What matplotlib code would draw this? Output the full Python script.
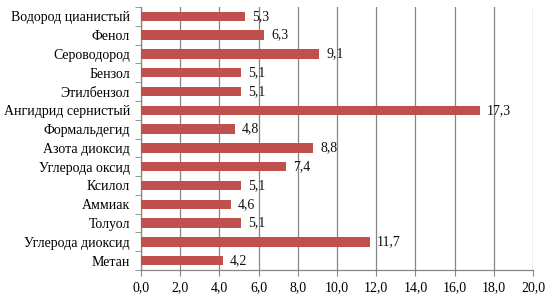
import numpy as np
from matplotlib import pyplot as plt
from matplotlib.ticker import FixedLocator, FuncFormatter

plt.rcParams['font.family'] = ['Liberation Serif', 'DejaVu Serif']

names = ['Водород цианистый', 'Фенол', 'Сероводород', 'Бензол', 'Этилбензол',
         'Ангидрид сернистый', 'Формальдегид', 'Азота диоксид', 'Углерода оксид',
         'Ксилол', 'Аммиак', 'Толуол', 'Углерода диоксид', 'Метан']
values = [5.3, 6.3, 9.1, 5.1, 5.1, 17.3, 4.8, 8.8, 7.4, 5.1, 4.6, 5.1, 11.7, 4.2]
xticks = [0, 2, 4, 6, 8, 10, 12, 14, 16, 18, 20]

barColor = '#C0504D'
gridColor = '#868686'
ftSize = 10

fig = plt.figure(figsize=(5.54, 3.02), dpi=100)
ax = fig.add_axes([141 / 554, 32 / 302, 392 / 554, 263 / 302])

y = np.arange(len(names))[::-1]
ax.barh(y, values, height=0.5, color=barColor, zorder=3)
for yi, v in zip(y, values):
    ax.text(v + 0.35, yi, ('%.1f' % v).replace('.', ','), va='center', ha='left',
            fontsize=ftSize, color='#111111', zorder=4)

ax.set_xlim(0, 20)
ax.set_ylim(-0.5, len(names) - 0.5)
ax.set_xticks(xticks)
ax.xaxis.set_major_formatter(FuncFormatter(lambda v, p: ('%.1f' % v).replace('.', ',')))
ax.set_yticks(y)
ax.set_yticklabels(names)
ax.yaxis.set_minor_locator(FixedLocator(np.arange(-0.5, len(names), 1.0)))
ax.tick_params(axis='y', which='major', length=0, labelsize=ftSize, pad=8)
ax.tick_params(axis='y', which='minor', length=4, color=gridColor, direction='out')
ax.tick_params(axis='x', length=4, color=gridColor, labelsize=ftSize, pad=4)
ax.grid(axis='x', color=gridColor, linewidth=0.9, zorder=0)

for s in ['top', 'right']:
    ax.spines[s].set_visible(False)
for s in ['left', 'bottom']:
    ax.spines[s].set_color(gridColor)
    ax.spines[s].set_linewidth(0.9)

plt.savefig('out.png', dpi=100)
